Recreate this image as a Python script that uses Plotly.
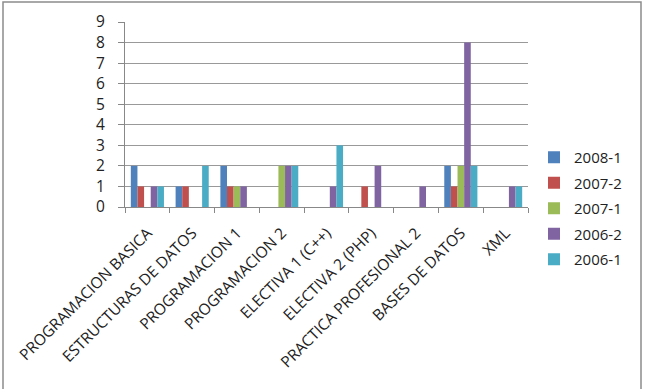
import plotly.graph_objects as go

categories = ["PROGRAMACION BASICA", "ESTRUCTURAS DE DATOS", "PROGRAMACION 1",
              "PROGRAMACION 2", "ELECTIVA 1 (C++)", "ELECTIVA 2 (PHP)",
              "PRACTICA PROFESIONAL 2", "BASES DE DATOS", "XML"]
s2008_1 = [2, 1, 2, 0, 0, 0, 0, 2, 0]
s2007_2 = [1, 1, 1, 0, 0, 1, 0, 1, 0]
s2007_1 = [0, 0, 1, 2, 0, 0, 0, 2, 0]
s2006_2 = [1, 0, 1, 2, 1, 2, 1, 8, 1]
s2006_1 = [1, 2, 0, 2, 3, 0, 0, 2, 1]
series_names = ["2008-1", "2007-2", "2007-1", "2006-2", "2006-1"]
y_ticks = list(range(0, 10))

colors = ["#4F81BD", "#C0504D", "#9BBB59", "#8064A2", "#4BACC6"]
series = [s2008_1, s2007_2, s2007_1, s2006_2, s2006_1]

W, H = 646, 389
L, R, T, B = 125, 118, 22, 182
pw, ph = W - L - R, H - T - B

fig = go.Figure()
for i, (name, vals) in enumerate(zip(series_names, series)):
    fig.add_trace(go.Bar(name=name, x=categories, y=vals, marker_color=colors[i],
                         marker_line_width=0, legendgroup=name))

font_family = "Open Sans, Liberation Sans, sans-serif"
fig.update_layout(
    width=W, height=H,
    margin=dict(l=L, r=R, t=T, b=B),
    paper_bgcolor="white", plot_bgcolor="white",
    barmode="group", bargap=0.26, bargroupgap=0,
    font=dict(family=font_family, size=13, color="#222"),
    legend=dict(x=(534 - L) / pw, y=1 - (141 - T) / ph, xanchor="left", yanchor="top",
                font=dict(size=15, color="#222"), tracegroupgap=3,
                itemwidth=30, bgcolor="rgba(0,0,0,0)"),
    xaxis=dict(type="category", tickangle=-45, tickson="boundaries", ticks="outside",
               ticklen=5, tickcolor="#888", showline=True, linecolor="#888",
               linewidth=1, showgrid=False, tickfont=dict(size=15.5, color="#222"),
               ticklabelstandoff=10, automargin=False),
    yaxis=dict(range=[0, 9], tickvals=y_ticks, ticks="outside", ticklen=6,
               tickcolor="#888", showline=True, linecolor="#888", linewidth=1,
               showgrid=True, gridcolor="#999", gridwidth=1, zeroline=False,
               ticklabelstandoff=10,
               tickfont=dict(size=15.5, color="#222"), automargin=False),
    shapes=[dict(type="rect", xref="paper", yref="paper",
                 x0=(3 - L) / pw, x1=(641 - L) / pw,
                 y0=1 - (395 - T) / ph, y1=1 - (2 - T) / ph,
                 line=dict(color="#8c8c8c", width=1.5), fillcolor="rgba(0,0,0,0)",
                 layer="below")],
)

fig.write_html("out.html")
